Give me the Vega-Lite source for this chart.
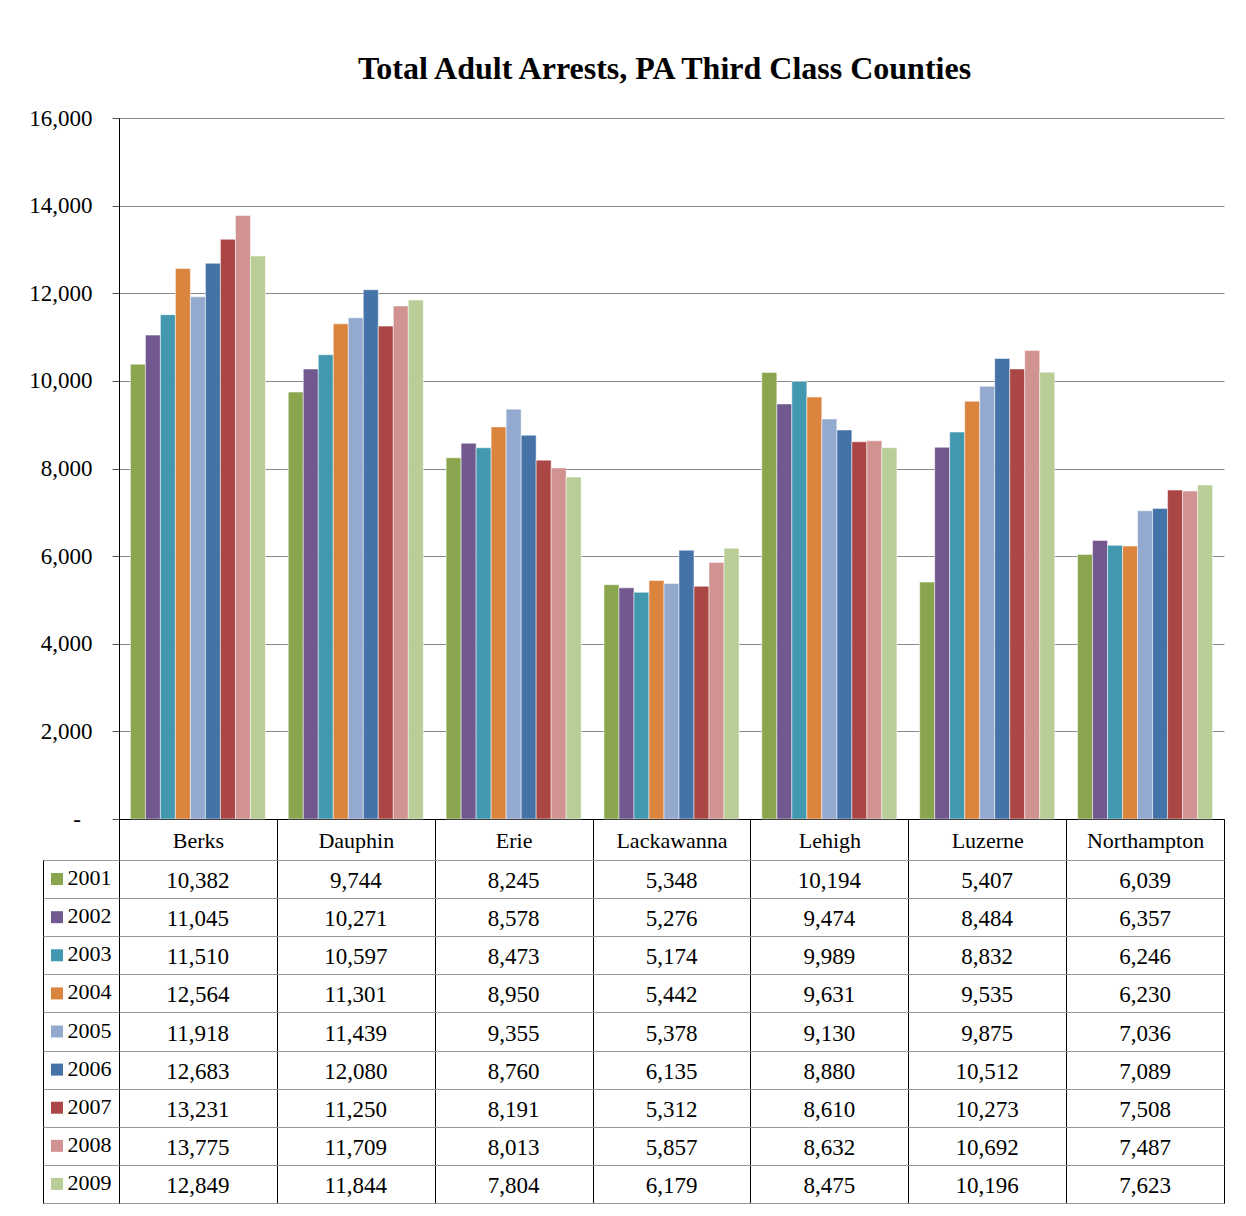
{
  "$schema": "https://vega.github.io/schema/vega-lite/v6.json",
  "background": "white",
  "padding": {"left": 28, "top": 53, "right": 5, "bottom": 5},
  "bounds": "flush",
  "columns": 2,
  "spacing": {"row": 41, "column": 0},
  "config": {
    "font": "Liberation Serif",
    "view": {"stroke": null},
    "axis": {"labelColor": "black", "labelFont": "Liberation Serif", "labelFontSize": 23}
  },
  "datasets": {
    "arrests": [
      {"county": "Berks", "year": "2001", "value": 10382},
      {"county": "Berks", "year": "2002", "value": 11045},
      {"county": "Berks", "year": "2003", "value": 11510},
      {"county": "Berks", "year": "2004", "value": 12564},
      {"county": "Berks", "year": "2005", "value": 11918},
      {"county": "Berks", "year": "2006", "value": 12683},
      {"county": "Berks", "year": "2007", "value": 13231},
      {"county": "Berks", "year": "2008", "value": 13775},
      {"county": "Berks", "year": "2009", "value": 12849},
      {"county": "Dauphin", "year": "2001", "value": 9744},
      {"county": "Dauphin", "year": "2002", "value": 10271},
      {"county": "Dauphin", "year": "2003", "value": 10597},
      {"county": "Dauphin", "year": "2004", "value": 11301},
      {"county": "Dauphin", "year": "2005", "value": 11439},
      {"county": "Dauphin", "year": "2006", "value": 12080},
      {"county": "Dauphin", "year": "2007", "value": 11250},
      {"county": "Dauphin", "year": "2008", "value": 11709},
      {"county": "Dauphin", "year": "2009", "value": 11844},
      {"county": "Erie", "year": "2001", "value": 8245},
      {"county": "Erie", "year": "2002", "value": 8578},
      {"county": "Erie", "year": "2003", "value": 8473},
      {"county": "Erie", "year": "2004", "value": 8950},
      {"county": "Erie", "year": "2005", "value": 9355},
      {"county": "Erie", "year": "2006", "value": 8760},
      {"county": "Erie", "year": "2007", "value": 8191},
      {"county": "Erie", "year": "2008", "value": 8013},
      {"county": "Erie", "year": "2009", "value": 7804},
      {"county": "Lackawanna", "year": "2001", "value": 5348},
      {"county": "Lackawanna", "year": "2002", "value": 5276},
      {"county": "Lackawanna", "year": "2003", "value": 5174},
      {"county": "Lackawanna", "year": "2004", "value": 5442},
      {"county": "Lackawanna", "year": "2005", "value": 5378},
      {"county": "Lackawanna", "year": "2006", "value": 6135},
      {"county": "Lackawanna", "year": "2007", "value": 5312},
      {"county": "Lackawanna", "year": "2008", "value": 5857},
      {"county": "Lackawanna", "year": "2009", "value": 6179},
      {"county": "Lehigh", "year": "2001", "value": 10194},
      {"county": "Lehigh", "year": "2002", "value": 9474},
      {"county": "Lehigh", "year": "2003", "value": 9989},
      {"county": "Lehigh", "year": "2004", "value": 9631},
      {"county": "Lehigh", "year": "2005", "value": 9130},
      {"county": "Lehigh", "year": "2006", "value": 8880},
      {"county": "Lehigh", "year": "2007", "value": 8610},
      {"county": "Lehigh", "year": "2008", "value": 8632},
      {"county": "Lehigh", "year": "2009", "value": 8475},
      {"county": "Luzerne", "year": "2001", "value": 5407},
      {"county": "Luzerne", "year": "2002", "value": 8484},
      {"county": "Luzerne", "year": "2003", "value": 8832},
      {"county": "Luzerne", "year": "2004", "value": 9535},
      {"county": "Luzerne", "year": "2005", "value": 9875},
      {"county": "Luzerne", "year": "2006", "value": 10512},
      {"county": "Luzerne", "year": "2007", "value": 10273},
      {"county": "Luzerne", "year": "2008", "value": 10692},
      {"county": "Luzerne", "year": "2009", "value": 10196},
      {"county": "Northampton", "year": "2001", "value": 6039},
      {"county": "Northampton", "year": "2002", "value": 6357},
      {"county": "Northampton", "year": "2003", "value": 6246},
      {"county": "Northampton", "year": "2004", "value": 6230},
      {"county": "Northampton", "year": "2005", "value": 7036},
      {"county": "Northampton", "year": "2006", "value": 7089},
      {"county": "Northampton", "year": "2007", "value": 7508},
      {"county": "Northampton", "year": "2008", "value": 7487},
      {"county": "Northampton", "year": "2009", "value": 7623}
    ]
  },
  "concat": [
    {
      "width": 76,
      "height": 701,
      "data": {"values": []},
      "mark": "point",
      "encoding": {}
    },
    {
      "width": 1105,
      "height": 701,
      "title": {
        "text": "Total Adult Arrests, PA Third Class Counties",
        "font": "Liberation Serif",
        "fontSize": 32,
        "fontWeight": "bold",
        "color": "black",
        "frame": "group",
        "offset": 21,
        "dx": -7
      },
      "data": {"name": "arrests"},
      "mark": {"type": "bar", "stroke": "white", "strokeWidth": 1, "strokeOpacity": 0.5},
      "encoding": {
        "x": {
          "field": "county",
          "type": "nominal",
          "sort": null,
          "scale": {"paddingInner": 0, "paddingOuter": 0},
          "axis": {
            "title": null,
            "labelAngle": 0,
            "tickBand": "extent",
            "tickSize": 41,
            "tickColor": "black",
            "domainColor": "black",
            "labelBaseline": "middle",
            "labelPadding": -20,
            "labelFontSize": 22
          }
        },
        "xOffset": {"field": "year", "type": "nominal", "sort": null, "scale": {"paddingInner": 0, "paddingOuter": 0.76}},
        "y": {
          "field": "value",
          "type": "quantitative",
          "scale": {"domain": [0, 16000]},
          "axis": {
            "title": null,
            "values": [0, 2000, 4000, 6000, 8000, 10000, 12000, 14000, 16000],
            "labelExpr": "datum.value === 0 ? '-\u00a0\u00a0\u200b' : format(datum.value, ',')",
            "grid": true,
            "gridColor": "#8a8a8a",
            "gridWidth": 1,
            "gridOpacity": 1,
            "tickSize": 7,
            "tickColor": "#555",
            "domainColor": "black",
            "labelPadding": 20
          }
        },
        "color": {
          "field": "year",
          "type": "nominal",
          "legend": null,
          "scale": {
            "domain": ["2001", "2002", "2003", "2004", "2005", "2006", "2007", "2008", "2009"],
            "range": ["#89A54E", "#71588F", "#4198AF", "#DB843D", "#93A9CF", "#4572A7", "#AA4643", "#D19392", "#B9CD96"]
          }
        }
      }
    },
    {
      "width": 76,
      "height": 343,
      "view": {"stroke": "black", "strokeWidth": 1},
      "data": {"name": "arrests"},
      "transform": [{"filter": "datum.county === 'Berks'"}],
      "encoding": {
        "y": {
          "field": "year",
          "type": "nominal",
          "sort": null,
          "scale": {"paddingInner": 0, "paddingOuter": 0},
          "axis": {
            "title": null,
            "labels": false,
            "ticks": false,
            "domain": false,
            "grid": true,
            "tickBand": "extent",
            "gridColor": "#999",
            "gridOpacity": 1
          }
        }
      },
      "layer": [
        {
          "mark": {"type": "point", "shape": "square", "filled": true, "size": 144, "opacity": 1},
          "encoding": {
            "x": {"datum": "legend", "type": "nominal", "bandPosition": 0.184, "scale": {"type": "band", "paddingInner": 0, "paddingOuter": 0}, "axis": null},
            "color": {
              "field": "year",
              "type": "nominal",
              "legend": null,
              "scale": {
                "domain": ["2001", "2002", "2003", "2004", "2005", "2006", "2007", "2008", "2009"],
                "range": ["#89A54E", "#71588F", "#4198AF", "#DB843D", "#93A9CF", "#4572A7", "#AA4643", "#D19392", "#B9CD96"]
              }
            }
          }
        },
        {
          "mark": {"type": "text", "align": "right", "baseline": "middle", "fontSize": 22, "color": "black", "dy": -1},
          "encoding": {
            "x": {"datum": "legend", "type": "nominal", "bandPosition": 0.9},
            "text": {"field": "year"}
          }
        }
      ]
    },
    {
      "width": 1105,
      "height": 343,
      "view": {"stroke": "black", "strokeWidth": 1},
      "data": {"name": "arrests"},
      "mark": {"type": "text", "fontSize": 23, "color": "black", "baseline": "middle", "dy": 2},
      "encoding": {
        "x": {
          "field": "county",
          "type": "nominal",
          "sort": null,
          "scale": {"paddingInner": 0, "paddingOuter": 0},
          "axis": {
            "title": null,
            "orient": "top",
            "labels": false,
            "ticks": false,
            "domain": false,
            "grid": true,
            "tickBand": "extent",
            "gridColor": "black",
            "gridOpacity": 1
          }
        },
        "y": {
          "field": "year",
          "type": "nominal",
          "sort": null,
          "scale": {"paddingInner": 0, "paddingOuter": 0},
          "axis": {
            "title": null,
            "labels": false,
            "ticks": false,
            "domain": false,
            "grid": true,
            "tickBand": "extent",
            "gridColor": "#999",
            "gridOpacity": 1
          }
        },
        "text": {"field": "value", "type": "quantitative", "format": ","}
      }
    }
  ]
}
